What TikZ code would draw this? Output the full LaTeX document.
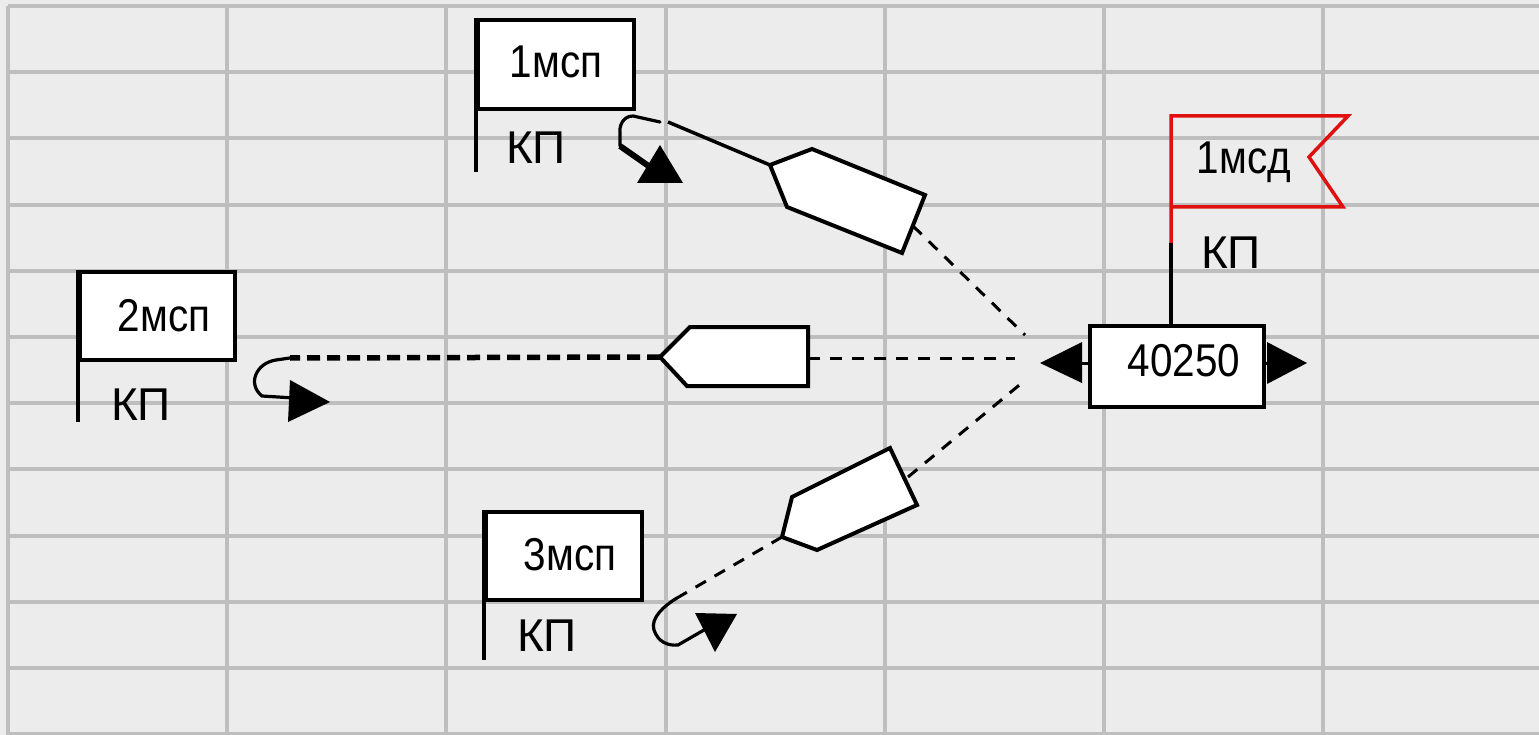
\documentclass[tikz,border=0pt]{standalone}
\usepackage{fontspec}
\setmainfont{Liberation Sans}
\newfontfamily\boxfont[FakeStretch=0.88]{Liberation Sans}
\usetikzlibrary{positioning, calc}
\definecolor{paper}{HTML}{ECECEC}
\definecolor{gridgray}{HTML}{BEBEBE}
\definecolor{flagred}{HTML}{E01010}

\begin{document}
\begin{tikzpicture}[x=1pt, y=-1pt,
    flagbox/.style={draw, line width=4pt, fill=white, inner sep=0pt, anchor=north west},
    boxtext/.style={font=\boxfont\fontsize{46}{50}\selectfont, inner sep=0pt},
    kp/.style={font=\fontsize{46}{50}\selectfont, inner sep=0pt},
    ship/.style={draw, line width=4pt, fill=white, line join=miter},
    route/.style={line width=3pt, dash pattern=on 12pt off 10pt},
    hook/.style={line width=3.2pt, line cap=round},
    tip/.style={fill=black, draw=black, line width=1pt, line join=miter}]

  % paper and grid
  \fill[paper] (0,0) rectangle (1539,735);
  \useasboundingbox (0,0) rectangle (1539,735);
  \foreach \i in {0,...,6}
    \draw[gridgray, line width=4pt] ({8+219.2*\i},6) -- ({8+219.2*\i},737);
  \foreach \j in {0,...,11}
    \draw[gridgray, line width=4pt] (8,{6+66.2*\j}) -- (1541,{6+66.2*\j});

  % flags of the companies
  \node[flagbox, minimum width=156pt, minimum height=89pt] (msp1) at (476,18) {};
  \node[boxtext] (msp1t) at (556,62) {1мсп};
  \draw[line width=4pt] (msp1.north west) -- ++(0,154);
  \node[kp] (kp1) at (536,148) {КП};

  \node[flagbox, minimum width=155pt, minimum height=88pt] (msp2) at (78,270) {};
  \node[boxtext] (msp2t) at (164,316) {2мсп};
  \draw[line width=4pt] (msp2.north west) -- ++(0,152);
  \node[kp] (kp2) at (141,405) {КП};

  \node[flagbox, minimum width=156pt, minimum height=88pt] (msp3) at (484,510) {};
  \node[boxtext] (msp3t) at (570,555) {3мсп};
  \draw[line width=4pt] (msp3.north west) -- ++(0,150);
  \node[kp] (kp3) at (547,636) {КП};

  % command post
  \node[flagbox, minimum width=174pt, minimum height=81pt] (hq) at (1088,324) {};
  \node[boxtext] (hqt) at (1184,361) {40250};
  \coordinate (pole) at (1171,243);
  \draw[line width=3.5pt] (hq.north -| pole) -- (pole);
  \draw[flagred, line width=3.5pt, line join=miter] (pole) -- (1171,116) -- (1348,116) -- (1309,157) -- (1343,207) -- (1171,207);
  \node[boxtext] (msd1) at (1244,162) {1мсд};
  \node[kp] (kp4) at (1231,253) {КП};
  \draw[line width=3pt] (hq.west |- 0,363) -- (1082,363);
  \fill (1040,363) -- (1082,342) -- (1082,383) -- cycle;
  \draw[line width=3pt] (hq.east |- 0,363) -- (1267,363);
  \fill (1307,363) -- (1267,342) -- (1267,384) -- cycle;

  % routes
  \coordinate (c1) at (1025,335);
  \coordinate (c2) at (1015,358);
  \coordinate (c3) at (1023,382);
  \coordinate (s1nose) at (770,165);
  \coordinate (s1tail) at (913,226);
  \coordinate (s2nose) at (660,357);
  \coordinate (s2tail) at (808,358);
  \coordinate (s3nose) at (782,537);
  \coordinate (s3tail) at (908,477);
  \coordinate (h1) at (668,122);
  \coordinate (h2) at (290,358);
  \coordinate (h3) at (677,598);

  \draw[route] (s1tail) -- (c1);
  \draw[route] (s2tail) -- (c2);
  \draw[route] (s3tail) -- (c3);
  \draw[line width=3.5pt] (s1nose) -- (h1);
  \draw[line width=5.5pt, dash pattern=on 13pt off 7pt] (s2nose) -- (h2);
  \draw[route] (s3nose) -- (h3);

  % turning arrows
  \draw[hook] (660,122) -- (633,116) .. controls (623,116) and (619,126) .. (620,133) -- (620,146);
  \draw[line width=6pt] (620,146) -- (650,167);
  \fill (637,183) -- (683,183) -- (660,145) -- cycle;

  \draw[hook] (h2) -- (276,360) .. controls (256,363) and (247,384) .. (262,396) -- (294,398);
  \fill (290,380) -- (330,402) -- (288,422) -- cycle;

  \draw[hook] (h3) .. controls (665,605) and (650,618) .. (654,630) .. controls (658,642) and (668,646) .. (678,645) -- (704,630);
  \fill (695,613) -- (737,614) -- (715,652) -- cycle;

  % ships
  \draw[ship] (s1nose) -- (812,149) -- (925,195) -- (902,253) -- (787,207) -- cycle;
  \draw[ship] (s2nose) -- (690,327) -- (808,327) -- (808,386) -- (687,386) -- cycle;
  \draw[ship] (s3nose) -- (792,497) -- (890,448) -- (917,505) -- (817,550) -- cycle;
\end{tikzpicture}
\end{document}
